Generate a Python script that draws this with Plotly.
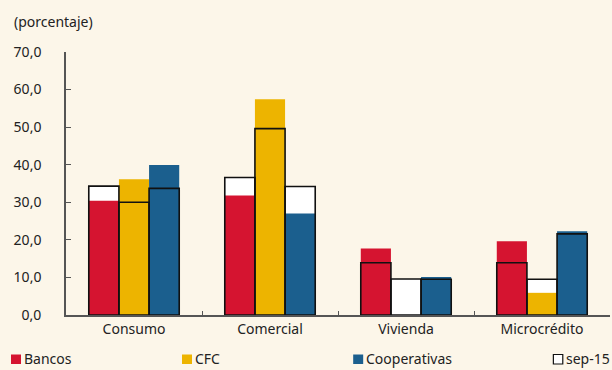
import plotly.graph_objects as go

# Loan categories and the three kinds of lenders
categories = ["Consumo", "Comercial", "Vivienda", "Microcrédito"]
series_names = ["Bancos", "CFC", "Cooperativas"]

# Current values by lender type (percent)
bancos = [30.4, 31.8, 17.7, 19.6]
cfc = [36.1, 57.4, 0.0, 5.9]
cooperativas = [39.9, 27.0, 10.1, 22.3]

# Values for sep-15, shown as outlined bars behind/over the current ones
bancos_sep15 = [34.3, 36.6, 13.9, 13.9]
cfc_sep15 = [30.0, 49.6, 9.6, 9.5]
cooperativas_sep15 = [33.7, 34.2, 9.5, 21.6]

y_ticks = [0, 10, 20, 30, 40, 50, 60, 70]

colors = ["#D51430", "#EDB400", "#1B5F8E"]
bg = "#FCF6E9"
font_family = "Noto Sans"
text_color = "#222222"

current = [bancos, cfc, cooperativas]
previous = [bancos_sep15, cfc_sep15, cooperativas_sep15]

fig = go.Figure()

# White fill for the sep-15 bars, drawn underneath
for i, vals in enumerate(previous):
    fig.add_trace(go.Bar(
        x=categories, y=vals, offsetgroup=str(i),
        marker=dict(color="#FFFFFF", line=dict(width=0)),
        showlegend=False, hoverinfo="skip",
    ))

# Current bars
for i, (name, vals) in enumerate(zip(series_names, current)):
    fig.add_trace(go.Bar(
        x=categories, y=vals, name=name, offsetgroup=str(i),
        marker=dict(color=colors[i], line=dict(width=0)),
        showlegend=False,
    ))

# sep-15 outlines on top
for i, vals in enumerate(previous):
    fig.add_trace(go.Bar(
        x=categories, y=vals, name="sep-15", offsetgroup=str(i),
        marker=dict(color="rgba(0,0,0,0)", line=dict(color="#111111", width=1.6)),
        showlegend=False,
    ))

# Legend row along the bottom: (label, fill, outline, left, right)
legend_items = [
    ("Bancos", colors[0], None, -0.1011, -0.0827),
    ("CFC", colors[1], None, 0.2132, 0.2316),
    ("Cooperativas", colors[2], None, 0.5279, 0.5463),
    ("sep-15", "#FFFFFF", "#111111", 0.8959, 0.9132),
]
y0, y1 = -0.1502, -0.1863
for label, fill, edge, xa, xb in legend_items:
    line = dict(color=edge, width=1.2) if edge else dict(width=0)
    fig.add_shape(type="rect", xref="paper", yref="paper",
                  x0=xa, x1=xb, y0=y0, y1=y1,
                  fillcolor=fill, line=line)
    fig.add_annotation(xref="paper", yref="paper", x=xb + 0.004, y=-0.1673,
                       xanchor="left", yanchor="middle", showarrow=False,
                       text=label, font=dict(size=14, color=text_color, family=font_family),
                       borderpad=0)

fig.add_annotation(xref="paper", yref="paper", x=-0.1, y=1.115,
                   xanchor="left", yanchor="middle", showarrow=False,
                   text="(porcentaje)", font=dict(size=14, color=text_color, family=font_family))

fig.update_layout(
    width=612, height=370,
    margin=dict(l=66, r=2, t=52, b=55),
    paper_bgcolor=bg, plot_bgcolor=bg,
    barmode="group", bargap=0.335, bargroupgap=0,
    separators=",.",
    font=dict(family=font_family, size=14, color=text_color),
    showlegend=False,
    xaxis=dict(
        type="category", categoryorder="array", categoryarray=categories,
        showline=True, linecolor="#555555", linewidth=1.6,
        ticks="inside", tickson="boundaries", ticklen=4, tickcolor="#555555",
        showgrid=False, zeroline=False,
        tickfont=dict(size=14, color=text_color, family=font_family),
    ),
    yaxis=dict(
        range=[0, 70], tickvals=y_ticks, tickformat=".1f",
        showline=True, linecolor="#555555", linewidth=1.6,
        ticks="inside", ticklen=5, tickcolor="#555555",
        showgrid=False, zeroline=False,
        ticklabelstandoff=20,
        tickfont=dict(size=14, color=text_color, family=font_family),
    ),
)

fig.write_html("out.html")
